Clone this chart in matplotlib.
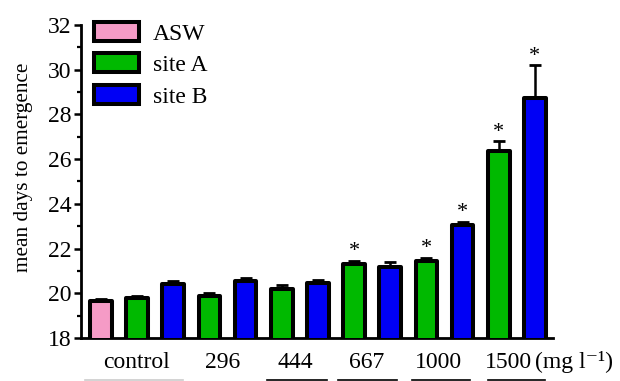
import matplotlib
matplotlib.use("Agg")
import matplotlib.pyplot as plt
from matplotlib.patches import Patch
from matplotlib.ticker import MultipleLocator

plt.rcParams['font.family'] = ['Liberation Serif', 'DejaVu Serif']

# bar order: control (ASW, site A, site B), then site A / site B for each dose
groups = ["control", "296", "444", "667", "1000", "1500"]
bar_series = ["ASW", "site A", "site B",
              "site A", "site B", "site A", "site B", "site A", "site B",
              "site A", "site B", "site A", "site B"]
means = [19.65, 19.77, 20.43,
         19.90, 20.55, 20.18, 20.46, 21.30, 21.17,
         21.45, 23.07, 26.37, 28.75]
errors = [0.10, 0.09, 0.14,
          0.09, 0.12, 0.17, 0.12, 0.15, 0.22,
          0.14, 0.14, 0.42, 1.45]
significant = [False, False, False,
               False, False, False, False, True, False,
               True, True, True, True]
colors = {"ASW": "#F59BC6", "site A": "#00B900", "site B": "#0000F5"}

fig = plt.figure(figsize=(6.2, 3.81), dpi=100)
ax = fig.add_axes([0.1306, 0.1129, 0.7613, 0.8215])

x = list(range(len(means)))
bars = ax.bar(x, means, width=0.6, bottom=0, color=[colors[s] for s in bar_series],
              edgecolor="black", linewidth=2.9, zorder=3)
for b in bars:
    b.set_joinstyle("round")
ax.errorbar(x, means, yerr=[[0] * len(errors), errors], fmt="none", ecolor="black",
            elinewidth=1.8, capsize=4.5, capthick=2.0, zorder=2)

for xi, m, e, s in zip(x, means, errors, significant):
    if s:
        ax.text(xi, m + e - 0.02, "*", ha="center", va="bottom", fontsize=16)

ax.set_ylim(18, 32)
ax.set_xlim(-0.553, 12.5)
ax.yaxis.set_major_locator(MultipleLocator(2))
ax.yaxis.set_minor_locator(MultipleLocator(1))
ax.tick_params(axis="y", which="major", length=5, width=1.8, labelsize=17, pad=2)
ax.tick_params(axis="y", which="minor", length=3, width=1.6)
ax.tick_params(axis="x", which="both", bottom=False, labelbottom=False)
for side in ("top", "right"):
    ax.spines[side].set_visible(False)
for side in ("left", "bottom"):
    ax.spines[side].set_linewidth(2.0)

ax.set_ylabel("mean days to emergence", fontsize=15.3)
ax.yaxis.set_label_coords(-0.102, 0.545)

# group labels under the axis
label_pos = [0.98, 3.36, 5.37, 7.34, 9.34, 11.26]
for g, p in zip(groups, label_pos):
    ax.text(p, -0.077, g, transform=ax.get_xaxis_transform(), ha="center",
            va="center", fontsize=17)
ax.text(12.0, -0.077, "(mg l\u207b\u00b9)", transform=ax.get_xaxis_transform(),
        ha="left", va="center", fontsize=17)

# underlines beneath the group labels
under = [(85, 183, "#cccccc"), (267, 327, "black"), (338, 397, "black"),
         (412, 470, "black"), (488, 545, "black")]
for x0, x1, c in under:
    fig.add_artist(plt.Line2D([x0 / 620, x1 / 620], [1.2 / 381, 1.2 / 381],
                              color=c, linewidth=1.2))

handles = [Patch(facecolor=colors[k], edgecolor="black", linewidth=2.9, joinstyle="round")
           for k in ["ASW", "site A", "site B"]]
ax.legend(handles, ["ASW", "site A", "site B"], loc="upper left",
          bbox_to_anchor=(0.008, 1.04), frameon=False, fontsize=17,
          handlelength=1.9, handleheight=0.85, handletextpad=0.6,
          labelspacing=0.38, borderaxespad=0)

fig.savefig("out.png", dpi=100)
